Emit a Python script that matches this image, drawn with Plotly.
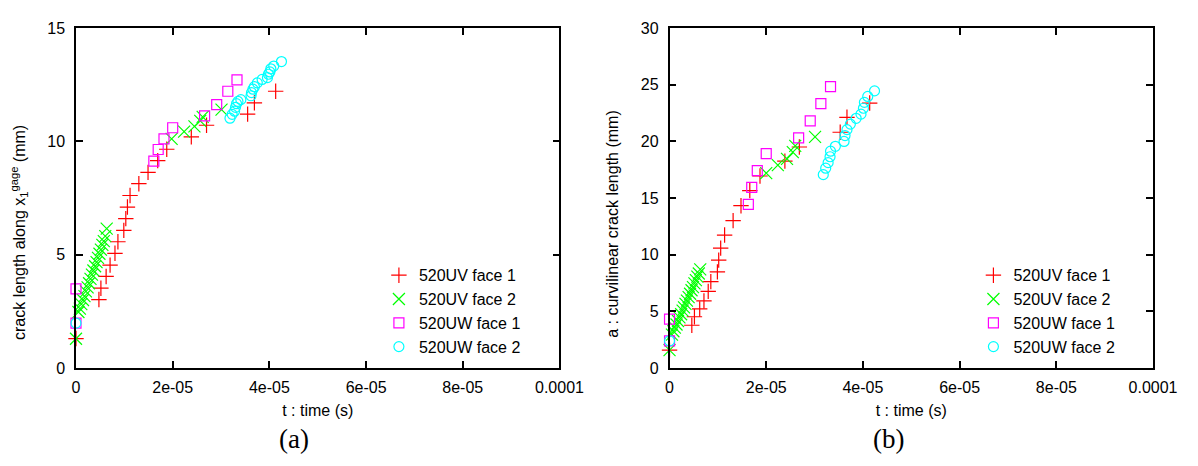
import plotly.graph_objects as go
from plotly.subplots import make_subplots

# ---- panel (a): crack length along x1 gage (mm) ----
a_uv1_t = [0.0, 4.74e-6, 5.15e-6, 6.23e-6, 7.05e-6, 8.06e-6, 8.67e-6, 9.89e-6, 1.03e-5, 1.064e-5,
           1.118e-5, 1.30e-5, 1.49e-5, 1.69e-5, 1.877e-5, 2.385e-5, 2.70e-5, 3.55e-5, 3.69e-5, 4.13e-5]
a_uv1_y = [1.30, 3.02, 3.52, 4.04, 4.54, 5.06, 5.57, 6.07, 6.59, 7.10,
           7.61, 8.13, 8.63, 9.15, 9.65, 10.20, 10.71, 11.20, 11.70, 12.21]

uv2_t = [0.0, 0.5e-6, 0.8e-6, 1.1e-6, 1.45e-6, 1.75e-6, 2.05e-6, 2.4e-6, 2.7e-6, 3.0e-6, 3.3e-6,
         3.6e-6, 3.95e-6, 4.25e-6, 4.55e-6, 4.85e-6, 5.15e-6, 5.45e-6, 5.75e-6, 6.05e-6, 6.35e-6]
a_uv2_y = [1.29, 2.47, 2.62, 2.82, 3.00, 3.17, 3.38, 3.56, 3.74, 3.93, 4.12,
           4.30, 4.49, 4.67, 4.86, 5.04, 5.22, 5.43, 5.60, 5.82, 6.15]
a_uv2_late_t = [1.978e-5, 2.236e-5, 2.45e-5, 2.57e-5, 2.62e-5, 3.01e-5]
a_uv2_late_y = [10.11, 10.43, 10.66, 10.90, 11.08, 11.40]

a_uw1_t = [0.0, 0.0, 1.61e-5, 1.70e-5, 1.82e-5, 2.0e-5, 2.66e-5, 2.91e-5, 3.14e-5, 3.33e-5]
a_uw1_y = [3.49, 1.98, 9.13, 9.64, 10.11, 10.60, 11.12, 11.62, 12.21, 12.71]

a_uw2_t = [0.0, 3.185e-5, 3.23e-5, 3.28e-5, 3.30e-5, 3.32e-5, 3.35e-5, 3.41e-5, 3.62e-5, 3.63e-5,
           3.66e-5, 3.69e-5, 3.75e-5, 3.85e-5, 3.96e-5, 3.98e-5, 4.01e-5, 4.03e-5, 4.09e-5, 4.25e-5]
a_uw2_y = [1.98, 11.02, 11.19, 11.33, 11.50, 11.66, 11.76, 11.84, 12.01, 12.15,
           12.30, 12.41, 12.58, 12.73, 12.81, 12.96, 13.06, 13.20, 13.32, 13.52]

# ---- panel (b): curvilinear crack length (mm) ----
b_uv1_t = [0.0, 4.61e-6, 5.15e-6, 6.24e-6, 7.12e-6, 8.0e-6, 8.54e-6, 9.9e-6, 1.017e-5, 1.058e-5,
           1.139e-5, 1.315e-5, 1.478e-5, 1.66e-5, 1.871e-5, 2.386e-5, 2.685e-5, 3.53e-5, 3.67e-5, 4.14e-5]
b_uv1_y = [1.58, 3.77, 4.52, 5.21, 5.92, 6.76, 7.62, 8.48, 9.52, 10.58,
           11.73, 13.00, 14.32, 15.65, 16.94, 18.25, 19.50, 20.80, 22.12, 23.38]

b_uv2_y = [1.58, 2.95, 3.24, 3.56, 3.84, 4.15, 4.46, 4.74, 5.06, 5.35, 5.66,
           5.94, 6.26, 6.55, 6.86, 7.14, 7.46, 7.75, 8.06, 8.34, 8.70]
b_uv2_late_t = [2.0e-5, 2.24e-5, 2.43e-5, 2.55e-5, 2.6e-5, 3.01e-5]
b_uv2_late_y = [17.20, 17.90, 18.45, 19.05, 19.60, 20.40]

b_uw1_t = [0.0, 0.0, 1.63e-5, 1.70e-5, 1.815e-5, 2.0e-5, 2.67e-5, 2.91e-5, 3.13e-5, 3.33e-5]
b_uw1_y = [4.31, 2.39, 14.44, 15.93, 17.42, 18.91, 20.30, 21.80, 23.32, 24.82]

b_uw2_t = [0.0, 3.18e-5, 3.23e-5, 3.28e-5, 3.32e-5, 3.33e-5, 3.43e-5, 3.61e-5, 3.63e-5, 3.67e-5,
           3.74e-5, 3.86e-5, 3.96e-5, 4.01e-5, 4.03e-5, 4.10e-5, 4.24e-5]
b_uw2_y = [2.39, 17.06, 17.63, 18.12, 18.64, 19.13, 19.56, 19.99, 20.51, 21.03,
           21.52, 22.03, 22.40, 22.92, 23.44, 23.96, 24.45]

names = ["520UV face 1", "520UV face 2", "520UW face 1", "520UW face 2"]
colors = ["#ff0000", "#00ff00", "#ff00ff", "#00ffff"]
symbols = ["cross-thin-open", "x-thin-open", "square-open", "circle-open"]
sizes = [11, 12, 10, 10]

x_ticks = [0, 2e-5, 4e-5, 6e-5, 8e-5, 1e-4]
x_ticktext = ["0", "2e-05", "4e-05", "6e-05", "8e-05", "0.0001"]

FONT = "Liberation Sans, Arial, sans-serif"

fig = make_subplots(rows=1, cols=2)

panels = [
    (1, "legend", [(a_uv1_t, a_uv1_y), (uv2_t + a_uv2_late_t, a_uv2_y + a_uv2_late_y),
                   (a_uw1_t, a_uw1_y), (a_uw2_t, a_uw2_y)]),
    (2, "legend2", [(b_uv1_t, b_uv1_y), (uv2_t + b_uv2_late_t, b_uv2_y + b_uv2_late_y),
                    (b_uw1_t, b_uw1_y), (b_uw2_t, b_uw2_y)]),
]
for col, leg, series in panels:
    for i, (t, y) in enumerate(series):
        fig.add_trace(go.Scatter(
            x=t, y=y, mode="markers", name=names[i], legend=leg, cliponaxis=False,
            marker=dict(symbol=symbols[i], size=sizes[i], color=colors[i],
                        line=dict(width=1.2, color=colors[i]))),
            row=1, col=col)

axis_style = dict(showline=True, linecolor="black", linewidth=1.5, mirror="allticks",
                  ticks="inside", ticklen=7, tickwidth=1.5, tickcolor="black",
                  showgrid=False, zeroline=False,
                  tickfont=dict(family=FONT, size=16, color="black"))

fig.update_xaxes(**axis_style, range=[0, 1e-4], tickvals=x_ticks, ticktext=x_ticktext,
                 ticklabelstandoff=4,
                 title=dict(text="t : time (s)", standoff=10,
                            font=dict(family=FONT, size=16, color="black")))
fig.update_xaxes(domain=[0, 0.4489], row=1, col=1)
fig.update_xaxes(domain=[0.5511, 1], row=1, col=2)
fig.update_yaxes(**axis_style, ticklabelstandoff=6)
fig.update_yaxes(range=[0, 15], tickvals=[0, 5, 10, 15], row=1, col=1)
fig.update_yaxes(range=[0, 30], tickvals=[0, 5, 10, 15, 20, 25, 30], row=1, col=2)

leg_style = dict(font=dict(family=FONT, size=16, color="black"), bgcolor="rgba(0,0,0,0)",
                 yanchor="middle", y=0.1667, xanchor="center", tracegroupgap=0)
# page body adds an 8px offset, so the figure is 16px smaller than the window
fig.update_layout(
    width=1182, height=450,
    margin=dict(l=68, r=18, t=12, b=90),
    paper_bgcolor="white", plot_bgcolor="white",
    legend=dict(**leg_style, x=0.3495),
    legend2=dict(**leg_style, x=0.9015),
    annotations=[
        dict(text="crack length along x<sub>1</sub><sup>gage</sup> (mm)", textangle=-90,
             xref="paper", yref="paper", x=-0.0529, y=0.397, showarrow=False,
             xanchor="center", yanchor="middle",
             font=dict(family=FONT, size=16, color="black")),
        dict(text="a : curvilinear crack length (mm)", textangle=-90,
             xref="paper", yref="paper", x=0.498, y=0.425, showarrow=False,
             xanchor="center", yanchor="middle",
             font=dict(family=FONT, size=16, color="black")),
        dict(text="(a)", xref="paper", yref="paper", x=0.2026, y=-0.2098, showarrow=False,
             xanchor="center", yanchor="middle",
             font=dict(family="Liberation Serif, Times New Roman, serif", size=27, color="black")),
        dict(text="(b)", xref="paper", yref="paper", x=0.7546, y=-0.2098, showarrow=False,
             xanchor="center", yanchor="middle",
             font=dict(family="Liberation Serif, Times New Roman, serif", size=27, color="black")),
    ],
)

fig.write_html("out.html")
